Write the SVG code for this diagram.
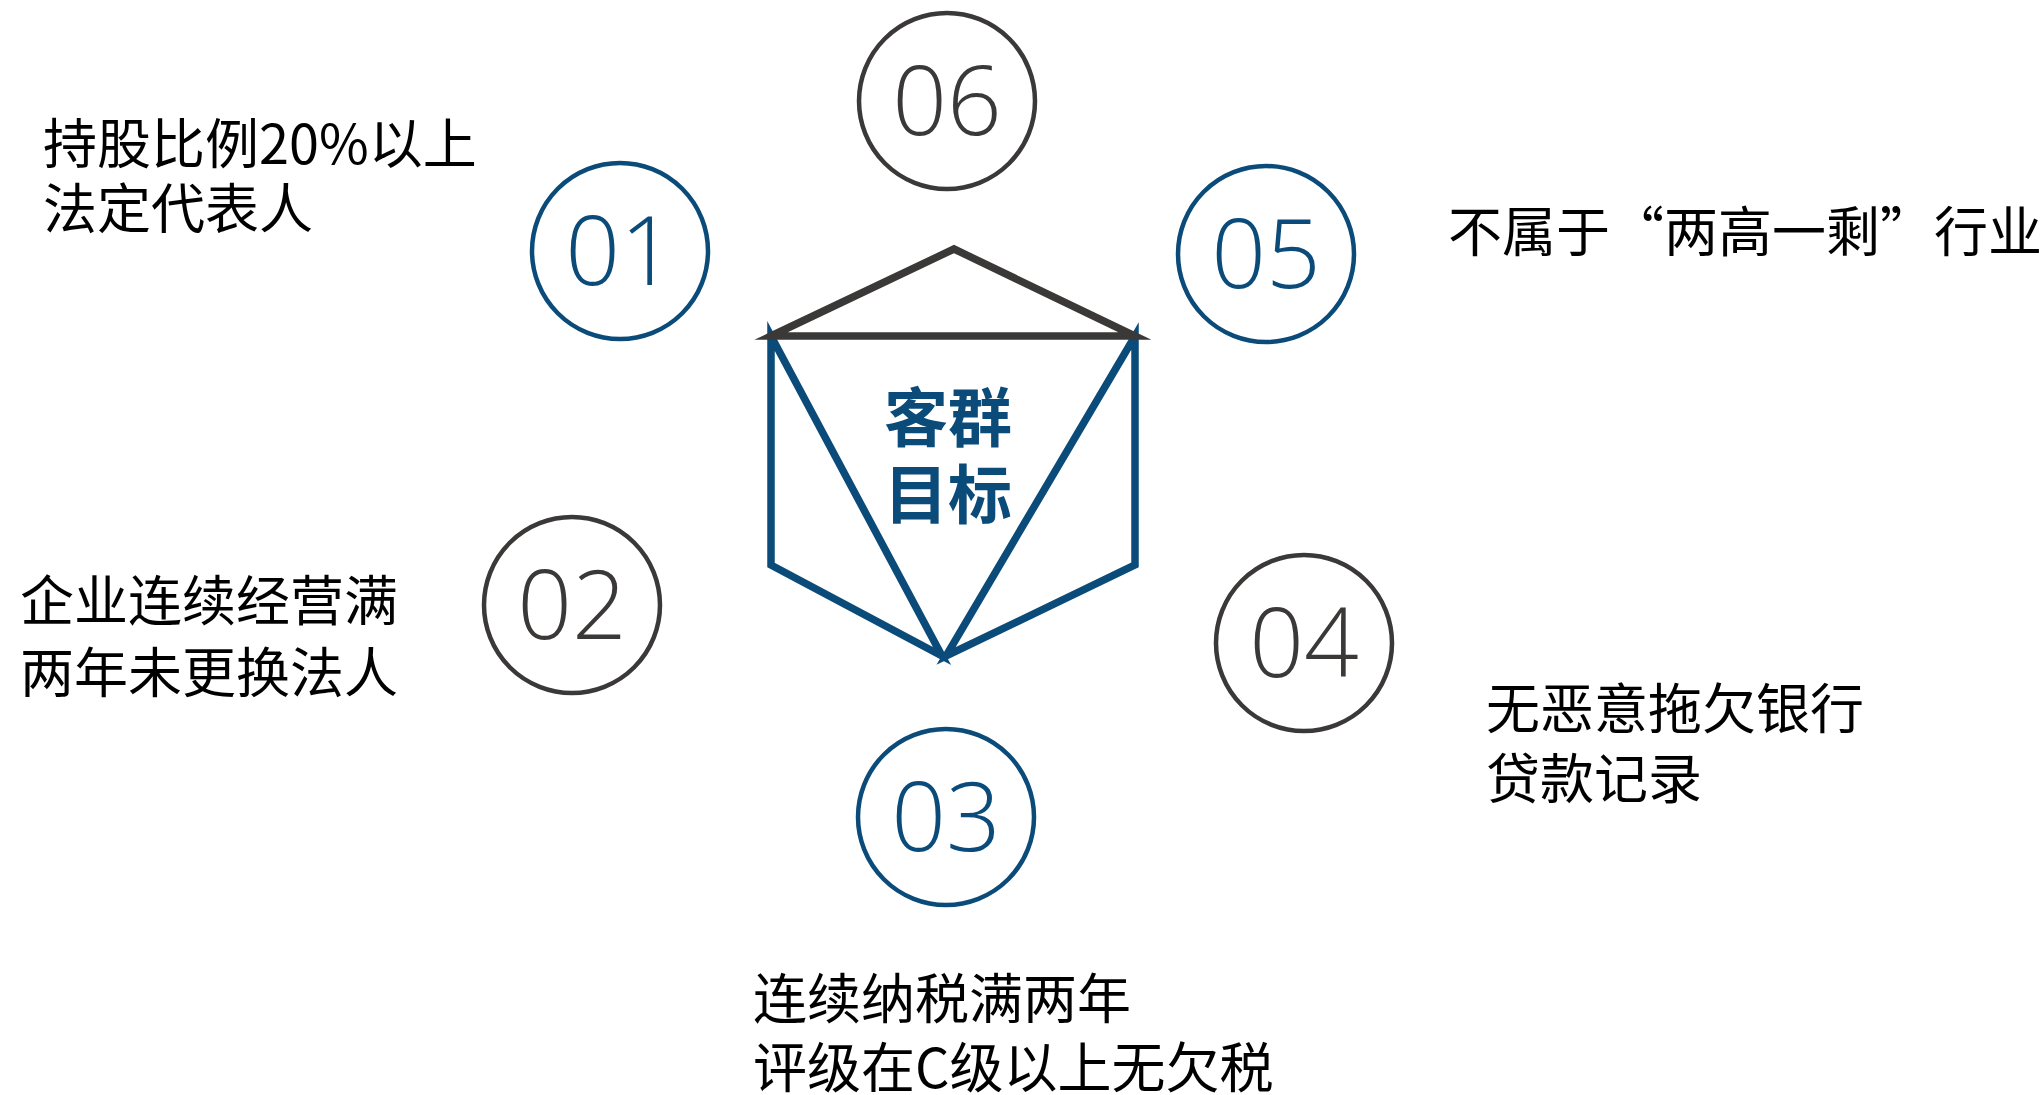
<svg xmlns="http://www.w3.org/2000/svg" width="2043" height="1095" viewBox="0 0 2043 1095">
<style>
.bg{fill:#fff}
.ring{fill:none;stroke-width:4.5}
.blue{stroke:#0B4B79}
.gray{stroke:#3B3838}
.num{font-family:"Open Sans","Noto Sans",sans-serif;font-size:96px;font-weight:300;text-anchor:middle}
.nb{fill:#0B4B79}
.ng{fill:#3B3838}
.lbl{font-family:"Noto Sans CJK SC","Noto Sans",sans-serif;font-size:54px;fill:#000}
.ctr{font-family:"Noto Sans CJK SC",sans-serif;font-size:64px;font-weight:700;fill:#0B4B79;text-anchor:middle}
.hexb{fill:none;stroke:#0B4B79;stroke-width:7.5;stroke-linejoin:miter;stroke-miterlimit:10}
.hexg{fill:none;stroke:#3B3838;stroke-width:7.5;stroke-linejoin:miter;stroke-miterlimit:10}
</style>
<rect class="bg" x="0" y="0" width="2043" height="1095"/>
<g id="connectors"></g>
<g id="center">
  <polygon class="hexb" points="771,336 771,565 942,656"/>
  <polygon class="hexb" points="1135,336 1135,565 946,656"/>
  <polygon class="hexg" points="771,336 954,249 1135,336"/>
  <text class="ctr" x="948" y="441">客群</text>
  <text class="ctr" x="948" y="518">目标</text>
</g>
<g id="node01">
  <circle class="ring blue" cx="620" cy="251" r="88"/>
  <text class="num nb" x="620" y="285">01</text>
  <text class="lbl" x="43" y="164">持股比例20%以上</text>
  <text class="lbl" x="43" y="229">法定代表人</text>
</g>
<g id="node02">
  <circle class="ring gray" cx="572" cy="605" r="88"/>
  <text class="num ng" x="572" y="639">02</text>
  <text class="lbl" x="20" y="621">企业连续经营满</text>
  <text class="lbl" x="20" y="693">两年未更换法人</text>
</g>
<g id="node03">
  <circle class="ring blue" cx="946" cy="817" r="88"/>
  <text class="num nb" x="946" y="851">03</text>
  <text class="lbl" x="753" y="1019">连续纳税满两年</text>
  <text class="lbl" x="753" y="1088">评级在C级以上无欠税</text>
</g>
<g id="node04">
  <circle class="ring gray" cx="1304" cy="643" r="88"/>
  <text class="num ng" x="1304" y="677">04</text>
  <text class="lbl" x="1486" y="729">无恶意拖欠银行</text>
  <text class="lbl" x="1486" y="799">贷款记录</text>
</g>
<g id="node05">
  <circle class="ring blue" cx="1266" cy="254" r="88"/>
  <text class="num nb" x="1266" y="288">05</text>
  <text class="lbl" x="1448" y="252">不属于“两高一剩”行业</text>
</g>
<g id="node06">
  <circle class="ring gray" cx="947" cy="101" r="88"/>
  <text class="num ng" x="947" y="135">06</text>
</g>
</svg>
